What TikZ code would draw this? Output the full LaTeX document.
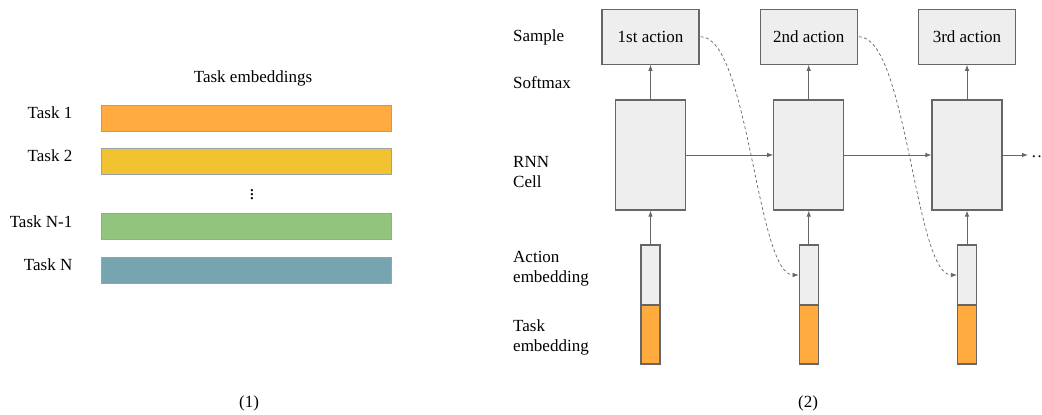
\documentclass[tikz,border=0pt]{standalone}
\usepackage{fontspec}
\setmainfont{Liberation Serif}
\usetikzlibrary{arrows.meta}
\definecolor{lineg}{HTML}{666666}
\definecolor{boxg}{HTML}{EEEEEE}
\definecolor{torange}{HTML}{FFAB40}
\definecolor{tyellow}{HTML}{F1C232}
\definecolor{tgreen}{HTML}{93C47D}
\definecolor{tblue}{HTML}{76A5AF}
\definecolor{barline}{HTML}{9AA3A8}
\begin{document}
\begin{tikzpicture}[x=1pt,y=-1pt,
  every node/.style={font=\fontsize{17}{20}\selectfont, inner sep=0pt},
  lbl/.style={anchor=west, align=left},
  tasklbl/.style={anchor=base east},
  embbar/.style={draw=barline, line width=0.8pt, minimum width=290pt, minimum height=26pt},
  actbox/.style={draw=lineg, fill=boxg, line width=1.1pt, minimum width=97pt, minimum height=55pt},
  cellbox/.style={draw=lineg, fill=boxg, line width=1.1pt, minimum width=70pt, minimum height=110pt},
  actemb/.style={draw=lineg, fill=boxg, line width=1.1pt, minimum width=19pt, minimum height=60pt},
  taskemb/.style={draw=lineg, fill=torange, line width=1.1pt, minimum width=19pt, minimum height=59pt},
  conn/.style={draw=lineg, line width=0.9pt, -{Latex[length=6pt,width=4.5pt]}},
  feed/.style={draw=lineg, line width=0.7pt, dash pattern=on 3pt off 2.5pt, -{Latex[length=6pt,width=4.5pt]}},
]
\useasboundingbox (0,0) rectangle (1042,415);

% ---------- panel (1) ----------
\node (title) at (253,78) {Task embeddings};
\node[embbar, fill=torange] (b1) at (246.7,118) {};
\node[embbar, fill=tyellow] (b2) at (246.7,161) {};
\node[embbar, fill=tgreen] (b3) at (246.7,226.7) {};
\node[embbar, fill=tblue] (b4) at (246.7,270) {};
\node[tasklbl] (l1) at (72.5,118.5) {Task 1};
\node[tasklbl] (l2) at (72.5,161.5) {Task 2};
\node[tasklbl] (l3) at (72.5,227) {Task N-1};
\node[tasklbl] (l4) at (72.5,270.5) {Task N};
\node[font=\fontsize{19}{19}\selectfont] (vd) at (252,191.5) {$\vdots$};
\node (cap1) at (249,403) {(1)};

% ---------- panel (2) ----------
\node[lbl, anchor=base west] (sample) at (513,41.5) {Sample};
\node[lbl, anchor=base west] (softmax) at (513,88.6) {Softmax};
\node[lbl] (rnn) at (513,172) {RNN\\Cell};
\node[lbl] (aemb) at (513,269) {Action\\embedding};
\node[lbl] (temb) at (513,337) {Task\\embedding};
\node (cap2) at (808,403) {(2)};

\foreach \i/\x/\t in {1/650.5/1st action,2/808.75/2nd action,3/967/3rd action}{
  \node[actbox] (a\i) at (\x,36.7) {\t};
  \node[cellbox] (c\i) at (\x,155) {};
  \node[actemb] (g\i) at (\x,275) {};
  \node[taskemb] (o\i) at (\x,334.5) {};
  \draw[conn] (c\i.north) -- (a\i.south);
  \draw[conn] (g\i.north) -- (c\i.south);
}
\draw[conn] (c1.east) -- (c2.west);
\draw[conn] (c2.east) -- (c3.west);
\coordinate (cend) at (1028,155);
\draw[conn] (c3.east) -- (cend);
\node[anchor=base west] (more) at (1031,157) {\dots};

\draw[feed] ([xshift=1pt]a1.east) .. controls +(48,0) and +(-42,0) .. (g2.west);
\draw[feed] ([xshift=1pt]a2.east) .. controls +(48,0) and +(-42,0) .. (g3.west);
\end{tikzpicture}
\end{document}
